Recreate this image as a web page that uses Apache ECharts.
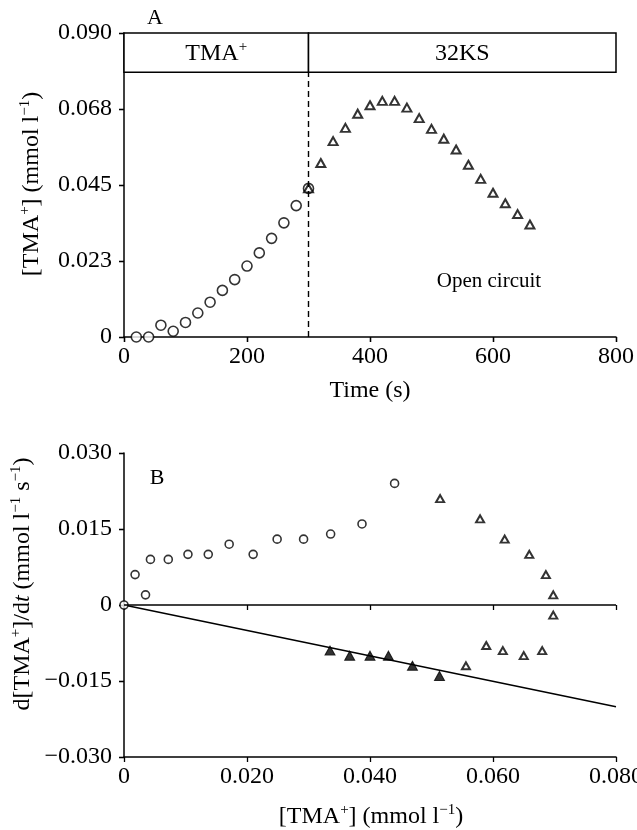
<!DOCTYPE html>
<html>
<head>
<meta charset="utf-8">
<script src="https://cdn.jsdelivr.net/npm/echarts@6/dist/echarts.min.js"></script>
<style>
  html, body { margin: 0; padding: 0; background: #fff; }
  #chart { width: 637px; height: 830px; }
</style>
</head>
<body>
<div id="chart"></div>
<script>
// ---- Panel A: bath TMA+ concentration against time ----
const aTimeLoad = [20, 40, 60, 80, 100, 120, 140, 160, 180, 200, 220, 240, 260, 280, 300];
const aTmaLoad = [0, 0, 0.0035, 0.0017, 0.0043, 0.0071, 0.0103, 0.0138, 0.0170, 0.0210, 0.0249, 0.0292, 0.0338, 0.0389, 0.0440];
const aTimeOpen = [300, 320, 340, 360, 380, 400, 420, 440, 460, 480, 500, 520, 540, 560, 580, 600, 620, 640, 660];
const aTmaOpen = [0.0440, 0.0515, 0.0580, 0.0619, 0.0661, 0.0686, 0.0699, 0.0699, 0.0679, 0.0648, 0.0616, 0.0587, 0.0555, 0.0510, 0.0468, 0.0427, 0.0396, 0.0364, 0.0333];
const aXTicks = ['0', '200', '400', '600', '800'];
const aYTicks = ['0', '0.023', '0.045', '0.068', '0.090'];
const switchTime = 300;
const phaseBoxBottom = 0.0784;

// ---- Panel B: rate of change against concentration ----
const bLoadX = [0, 0.0018, 0.0035, 0.0043, 0.0072, 0.0104, 0.0137, 0.0171, 0.0210, 0.0249, 0.0292, 0.0336, 0.0387, 0.0440];
const bLoadY = [0, 0.006, 0.002, 0.009, 0.009, 0.010, 0.010, 0.012, 0.010, 0.013, 0.013, 0.014, 0.016, 0.024];
const bOpenX = [0.0514, 0.0579, 0.0619, 0.0659, 0.0686, 0.0698, 0.0698, 0.0680, 0.0650, 0.0616, 0.0589, 0.0556];
const bOpenY = [0.021, 0.017, 0.013, 0.010, 0.006, 0.002, -0.002, -0.009, -0.010, -0.009, -0.008, -0.012];
const bDecayX = [0.0335, 0.0367, 0.0400, 0.0430, 0.0469, 0.0513];
const bDecayY = [-0.009, -0.010, -0.010, -0.010, -0.012, -0.014];
const bXTicks = ['0', '0.020', '0.040', '0.060', '0.080'];
const bYTicks = ['\u22120.030', '\u22120.015', '0', '0.015', '0.030'];
const fitSlope = -0.251;

const FONT = 'Liberation Serif';
const zip = (xs, ys) => xs.map((x, i) => [x, ys[i]]);

const axisLine = { show: true, onZero: false, lineStyle: { color: '#000', width: 1.5 } };
const outTick = { show: true, inside: false, length: 5, lineStyle: { color: '#000', width: 1.3 } };
const inTick = { show: true, inside: true, length: 5, lineStyle: { color: '#000', width: 1.3 } };
const lbl = (arr, margin) => ({
  show: true, margin: margin, color: '#000', fontFamily: FONT, fontSize: 24,
  formatter: (v, i) => arr[i]
});

function valueAxis(gridIndex, min, max, interval, labels, margin) {
  return [
    { type: 'value', gridIndex, min, max, interval, axisLine, axisTick: outTick,
      axisLabel: lbl(labels, margin), splitLine: { show: false } },
    { type: 'value', gridIndex, min, max, interval, axisLine: { show: false }, axisTick: inTick,
      axisLabel: { show: false }, splitLine: { show: false } }
  ];
}

const openCircle = { color: '#fff', borderColor: '#000', borderWidth: 1.6 };
const openTri = { color: '#fff', borderColor: '#000', borderWidth: 2 };
const supRich = {
  n: { fontFamily: FONT, fontSize: 24, color: '#000', lineHeight: 26, verticalAlign: 'bottom' },
  i: { fontFamily: FONT, fontSize: 24, color: '#000', fontStyle: 'italic', lineHeight: 26, verticalAlign: 'bottom' },
  s: { fontFamily: FONT, fontSize: 15, color: '#000', lineHeight: 26, verticalAlign: 'top' }
};

const chart = echarts.init(document.getElementById('chart'), null, { renderer: 'canvas' });

chart.setOption({
  backgroundColor: '#fff',
  animation: false,
  grid: [
    { left: 124, top: 33, width: 492, height: 304, containLabel: false, outerBoundsMode: 'none' },
    { left: 124, top: 453, width: 492, height: 304, containLabel: false, outerBoundsMode: 'none' }
  ],
  xAxis: [
    ...valueAxis(0, 0, 800, 200, aXTicks, 8),
    ...valueAxis(1, 0, 0.08, 0.02, bXTicks, 8)
  ],
  yAxis: [
    ...valueAxis(0, 0, 0.09, 0.0225, aYTicks, 12),
    ...valueAxis(1, -0.03, 0.03, 0.015, bYTicks, 12)
  ],
  graphic: [
    { type: 'text', x: 155, y: 18, style: { text: 'A', fontFamily: FONT, fontSize: 22, fill: '#000', align: 'center', verticalAlign: 'middle' } },
    { type: 'text', x: 157, y: 478, style: { text: 'B', fontFamily: FONT, fontSize: 22, fill: '#000', align: 'center', verticalAlign: 'middle' } },
    { type: 'text', x: 489, y: 281, style: { text: 'Open circuit', fontFamily: FONT, fontSize: 21, fill: '#000', align: 'center', verticalAlign: 'middle' } },
    { type: 'text', x: 370, y: 391, style: { text: 'Time (s)', fontFamily: FONT, fontSize: 24, fill: '#000', align: 'center', verticalAlign: 'middle' } },
    { type: 'text', x: 371, y: 816, style: { text: '{n|[TMA}{s|+}{n|] (mmol l}{s|\u22121}{n|)}', rich: supRich, align: 'center', verticalAlign: 'middle' } },
    { type: 'text', x: 31, y: 184, rotation: Math.PI / 2,
      style: { text: '{n|[TMA}{s|+}{n|] (mmol l}{s|\u22121}{n|)}', rich: supRich, align: 'center', verticalAlign: 'middle' } },
    { type: 'text', x: 22, y: 584, rotation: Math.PI / 2,
      style: { text: '{n|d[TMA}{s|+}{n|]/d}{i|t}{n| (mmol l}{s|\u22121}{n| s}{s|\u22121}{n|)}', rich: supRich, align: 'center', verticalAlign: 'middle' } }
  ],
  series: [
    // phase boxes and the switch marker
    {
      type: 'scatter', xAxisIndex: 0, yAxisIndex: 0, data: [], silent: true,
      markArea: {
        silent: true,
        itemStyle: { color: '#fff', borderColor: '#000', borderWidth: 1.5 },
        label: { show: true, position: 'inside', color: '#000', rich: supRich },
        data: [
          [{ xAxis: 0, yAxis: phaseBoxBottom, label: { formatter: '{n|TMA}{s|+}' } }, { xAxis: switchTime, yAxis: 0.09 }],
          [{ xAxis: switchTime, yAxis: phaseBoxBottom, label: { formatter: '{n|32KS}' } }, { xAxis: 800, yAxis: 0.09 }]
        ]
      },
      markLine: {
        silent: true, symbol: 'none', animation: false,
        label: { show: false },
        lineStyle: { color: '#000', width: 1.4, type: [6, 4] },
        data: [[{ coord: [switchTime, 0] }, { coord: [switchTime, phaseBoxBottom] }]]
      }
    },
    {
      type: 'scatter', xAxisIndex: 0, yAxisIndex: 0, symbol: 'circle', symbolSize: 10,
      itemStyle: openCircle, data: zip(aTimeLoad, aTmaLoad), z: 3
    },
    {
      type: 'scatter', xAxisIndex: 0, yAxisIndex: 0, symbol: 'triangle', symbolSize: [9, 8],
      itemStyle: openTri, data: zip(aTimeOpen, aTmaOpen), z: 4
    },
    // panel B: zero line and fitted decay line
    {
      type: 'line', xAxisIndex: 2, yAxisIndex: 2, showSymbol: false, symbol: 'none',
      lineStyle: { color: '#000', width: 1.5 },
      data: [[0, 0], [0.08, 0.08 * fitSlope]],
      markLine: {
        silent: true, symbol: 'none', label: { show: false },
        lineStyle: { color: '#000', width: 1.5, type: 'solid' },
        data: [{ yAxis: 0 }]
      }
    },
    {
      type: 'scatter', xAxisIndex: 2, yAxisIndex: 2, symbol: 'circle', symbolSize: 8,
      itemStyle: openCircle, data: zip(bLoadX, bLoadY), z: 3
    },
    {
      type: 'scatter', xAxisIndex: 2, yAxisIndex: 2, symbol: 'triangle', symbolSize: [8, 7],
      itemStyle: openTri, data: zip(bOpenX, bOpenY), z: 3
    },
    {
      type: 'scatter', xAxisIndex: 2, yAxisIndex: 2, symbol: 'triangle', symbolSize: [10, 9],
      itemStyle: { color: '#000', borderColor: '#000', borderWidth: 1 }, data: zip(bDecayX, bDecayY), z: 3
    }
  ]
});
</script>
</body>
</html>
